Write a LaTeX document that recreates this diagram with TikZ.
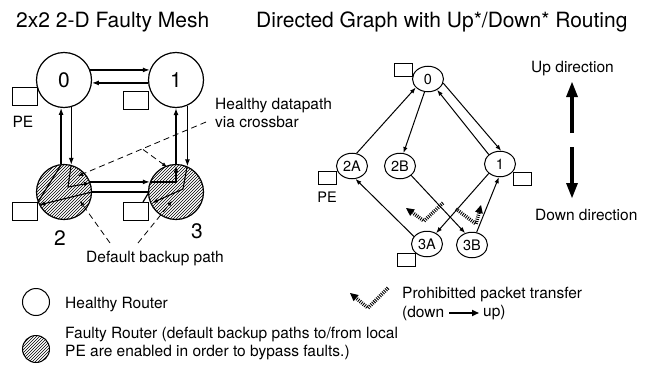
\documentclass[tikz,border=0pt]{standalone}
\usepackage{fontspec}
\setmainfont{TeX Gyre Heros}
\usetikzlibrary{arrows.meta,shapes.geometric}

\tikzset{
  big/.style={font=\fontsize{21}{24}\selectfont},
  txt/.style={font=\fontsize{15.5}{18}\selectfont, inner sep=0pt},
  small/.style={font=\fontsize{14.5}{16}\selectfont, inner sep=0pt},
  router/.style={circle, draw, line width=1.2pt, minimum size=55pt, inner sep=0pt},
  hatched/.style={path picture={
      \foreach \k in {-42,-39,...,42}
        \draw[line width=0.5pt]
          ([shift={(\k pt-30pt,-30pt)}]path picture bounding box.center) -- ++(60pt,60pt);}},
  faulty/.style={router, hatched},
  pebox/.style={draw, line width=1pt, minimum width=25pt, minimum height=18pt, inner sep=0pt},
  link/.style={line width=1.2pt, -{Latex[length=7pt,width=5pt]}},
  plainlink/.style={line width=1.2pt},
  bypass/.style={line width=1.1pt, -{Latex[length=6pt,width=4.5pt]}},
  pointer/.style={line width=0.8pt, dash pattern=on 6pt off 4pt, -{Latex[length=5pt,width=4pt]}},
  vertex/.style={ellipse, draw, line width=1pt, minimum width=31pt, minimum height=25.5pt, inner sep=0pt, font=\fontsize{14.5}{16}\selectfont},
  smallbox/.style={draw, line width=1pt, minimum width=18pt, minimum height=13pt, inner sep=0pt},
  edge/.style={line width=1pt, -{Latex[length=6pt,width=4.5pt]}},
  banned/.style={line width=3.6pt, dash pattern=on 0.9pt off 1.2pt,
                 -{Triangle[length=8pt,width=8pt,line width=0pt]}},
  heavy/.style={line width=4pt, -{Triangle[length=15pt,width=12pt,line width=0pt]}},
}

\begin{document}
\begin{tikzpicture}[x=1pt,y=-1pt]
\useasboundingbox (0,0) rectangle (651,372);

% ---------- titles ----------
\node[big, anchor=west, inner sep=0pt] (t1) at (16,22) {2x2 2-D Faulty Mesh};
\node[big, anchor=west, inner sep=0pt] (t2) at (256,22) {Directed Graph with Up*/Down* Routing};

% ---------- 2x2 mesh ----------
\node[router, big] (m0) at (64,80) {0};
\node[router, big] (m1) at (176,80) {1};
\node[faulty] (m2) at (64,192) {};
\node[faulty] (m3) at (176,192) {};
\node[big, inner sep=0pt] (l2) at (60,238) {2};
\node[big, inner sep=0pt] (l3) at (197,231) {3};

\node[pebox] (p0) at (24.5,96) {};
\node[pebox] (p1) at (136,100) {};
\node[pebox] (p2) at (24.5,211) {};
\node[pebox] (p3) at (135.5,211) {};
\node[txt] (pe0) at (23,122) {PE};

% links between routers
\draw[link] (m0.21) -- (m1.159);
\draw[link] (m1.186) -- (m0.-6);
\draw[link] (m2.96) -- (m0.264);
\draw[link] (m0.285) -- (m2.75);
\draw[link] (m3.90) -- (m1.270);
\draw[link] (m1.294) -- (m3.66);
\draw[link] (m2.21) -- (m3.159);
\draw[plainlink] (m3.180) -- (m2.0);

% paths inside the faulty routers
\draw[bypass] (71,166) -- (68,187) -- (90,183);
\draw[plainlink] (61,165) -- (38,202);
\draw[bypass] (92,192) -- (39,205);
\draw[bypass] (150,182) -- (176,182) -- (176,166);
\draw[bypass] (187,167) -- (183,189) -- (152,203);
\draw[plainlink] (149,192) -- (143,202);

% callouts
\node[txt, anchor=west, align=left] (hd) at (215,113) {Healthy datapath\\via crossbar};
\coordinate (hs) at (206,122);
\coordinate (hb) at (143,149.5);
\draw[pointer] (hs) -- (78,176);
\draw[pointer] (hb) -- (167,167);
\node[txt] (db) at (155,259) {Default backup path};
\draw[pointer] (110,243) -- (80,201);
\draw[pointer] (138,243) -- (172,201);

% ---------- legend ----------
\node[router, line width=1pt, minimum size=27pt] (lh) at (36,302) {};
\node[txt, anchor=west] (lht) at (65,305) {Healthy Router};
\node[router, hatched, line width=1pt, minimum size=27pt] (lf) at (36,349) {};
\node[txt, anchor=west, align=left] (lft) at (65,344)
  {Faulty Router (default backup paths to/from local\\PE are enabled in order to bypass faults.)};

\draw[banned] (388,288) -- (368,308) -- (350,293);
\node[txt, anchor=west] (pr) at (402,295) {Prohibitted packet transfer};
\node[txt, anchor=west] (pd) at (402,313) {(down};
\node[txt, anchor=west] (pu) at (483,313) {up)};
\draw[line width=1.6pt, -{Triangle[length=7pt,width=6pt]}] (pd.east) ++(5,0) -- ([xshift=-4pt]pu.west);

% ---------- up*/down* graph ----------
\node[vertex] (r0) at (428,79) {0};
\node[vertex] (r1) at (500,164) {1};
\node[vertex] (r2A) at (352,166) {2A};
\node[vertex] (r2B) at (400,166) {2B};
\node[vertex] (r3A) at (427,244) {3A};
\node[vertex] (r3B) at (472,245) {3B};

\node[smallbox] (b0) at (403.5,70) {};
\node[smallbox] (b1) at (522,179) {};
\node[smallbox] (b2A) at (327,178) {};
\node[smallbox] (b3A) at (406.5,260) {};
\node[small] (pe2A) at (327,197) {PE};

\draw[edge] (r2A.70) -- (r0.-145);
\draw[edge] (r0.-105) -- (r2B.75);
\draw[edge] (r0.-15) -- (r1.85);
\draw[edge] (r1.140) -- (r0.-50);
\draw[edge] (r3A.150) -- (r2A.-75);
\draw[edge] (r2B.-40) -- (r3B.120);
\draw[edge] (r1.-140) -- (r3A.50);
\draw[edge] (r3B.70) -- (r1.-95);

\draw[banned] (443,203) -- (424,221) -- (406,208);
\draw[banned] (456,209) -- (476,224) -- (481,205);

% direction arrows
\node[txt, anchor=west] (up) at (531,69) {Up direction};
\node[txt, anchor=west] (dn) at (535,215) {Down direction};
\coordinate (ua) at (572,133);
\coordinate (ub) at (572,82);
\coordinate (da) at (572,147);
\coordinate (db2) at (572,198);
\draw[heavy] (ua) -- (ub);
\draw[heavy] (da) -- (db2);
\end{tikzpicture}
\end{document}
